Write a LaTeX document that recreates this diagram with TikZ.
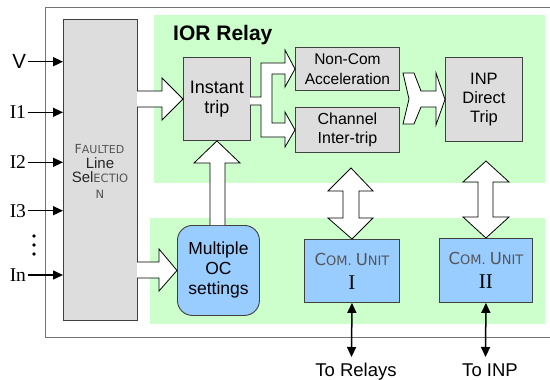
\documentclass[tikz,border=0pt]{standalone}
\usepackage{fontspec}
\setmainfont{Liberation Sans}
\newfontfamily\serifff{Liberation Serif}
\newfontfamily\scff{DejaVu Sans}
\usetikzlibrary{arrows.meta}
\definecolor{grn}{HTML}{CCFFCC}
\definecolor{gboxc}{HTML}{DDDDDD}
\definecolor{bboxc}{HTML}{99CCFF}
\definecolor{edgec}{HTML}{404040}
\definecolor{scc}{HTML}{555555}
\newcommand{\myfs}[2]{\fontsize{#1}{#2}\selectfont}
\pgfdeclarelayer{bg}
\pgfsetlayers{bg,main}
\begin{document}
\begin{tikzpicture}[x=1pt,y=-1pt,
  boxbase/.style={draw=edgec, line width=0.9pt, inner sep=0pt, align=center, anchor=north west},
  gbx/.style={boxbase, fill=gboxc},
  bbx/.style={boxbase, fill=bboxc},
  blk/.style={draw=black, line width=0.8pt, fill=white, line join=miter},
  inlbl/.style={anchor=east, inner sep=0pt, outer sep=1.5pt},
  inarr/.style={line width=1.5pt, -{Triangle[length=10pt,width=9pt]}},
  biarr/.style={line width=1.5pt, {Triangle[length=10pt,width=9pt]}-{Triangle[length=10pt,width=9pt]}},
  sctext/.style={inner sep=0pt, anchor=base, text=scc}
]
\useasboundingbox (0,0) rectangle (550,380);

% regions
\begin{pgfonlayer}{bg}
\draw[line width=0.8pt, draw=black!55] (45,7) rectangle (565,337);
\fill[grn] (154,15) rectangle (545,183);
\fill[grn] (150,218) rectangle (545,324);
\end{pgfonlayer}

% boxes
\node[gbx, minimum width=74pt, minimum height=301pt] (fls) at (63,19) {};
\node[gbx, minimum width=67pt, minimum height=83pt, font=\myfs{18}{20}] (instant) at (183,57) {Instant\\trip};
\node[gbx, minimum width=104pt, minimum height=43pt, font=\myfs{15.5}{20}] (noncom) at (295,47) {Non-Com\\Acceleration};
\node[gbx, minimum width=104pt, minimum height=45pt, font=\myfs{16}{19}] (channel) at (295,107) {Channel\\Inter-trip};
\node[gbx, minimum width=77pt, minimum height=84pt, font=\myfs{16.5}{19}] (inp) at (445,57) {INP\\Direct\\Trip};
\node[bbx, rounded corners=15pt, minimum width=82pt, minimum height=90pt, font=\myfs{17.5}{20}] (oc) at (177,225) {Multiple\\OC\\settings};
\node[bbx, minimum width=95pt, minimum height=63pt, font=\myfs{16}{24}] (com1) at (304,239)
  {{\scff\color{scc}\myfs{16.5}{16}C\myfs{13}{16}OM. \myfs{16.5}{16}U\myfs{13}{16}NIT}\\{\serifff\myfs{21}{24}I}};
\node[bbx, minimum width=93pt, minimum height=64pt, font=\myfs{16}{24}] (com2) at (439,238)
  {{\scff\color{scc}\myfs{16.5}{16}C\myfs{13}{16}OM. \myfs{16.5}{16}U\myfs{13}{16}NIT}\\{\serifff\myfs{21}{24}II}};

% text of the faulted line selection box
\node[sctext, font=\scff] (flsa) at (99.5,153.5) {\myfs{12.5}{13}F\myfs{11}{13}AULTED};
\node[sctext, text=black!85, font=\myfs{15}{15}] (flsb) at (100,168) {Line};
\node[sctext, text=black!85, font=\myfs{15}{15}] (flsc) at (100,182.5) {Sel{\scff\color{scc}\myfs{11.5}{13}ECTIO}};
\node[sctext, font=\scff\myfs{11.5}{13}] (flsd) at (100,198.5) {N};

% title
\node[anchor=base west, inner sep=0pt, font=\bfseries\myfs{21}{21}] (ior) at (173,41) {IOR Relay};

% inputs
\node[inlbl, font=\myfs{20.5}{20}] (lV) at (27.5,61.7) {V};
\node[inlbl, font=\serifff\myfs{19.5}{19}] (lI1) at (27.5,112.3) {I1};
\node[inlbl, font=\serifff\myfs{19.5}{19}] (lI2) at (27.5,162.3) {I2};
\node[inlbl, font=\serifff\myfs{19.5}{19}] (lI3) at (27.5,210.7) {I3};
\node[inlbl, font=\serifff\myfs{19.5}{19}] (lIn) at (27.5,275) {In};
\foreach \n in {lV,lI1,lI2,lI3,lIn}
  \draw[inarr] (\n.east) -- (\n.east -| fls.west);
\foreach \yy in {236,245,254}
  \fill (34,\yy) circle[radius=1.8pt];

% block arrows
\draw[blk] (137,91) -- (162,91) -- (162,78) -- (instant.west) -- (162,120) -- (162,107) -- (137,107);
\draw[blk] (137,262) -- (159,262) -- (159,249) -- (oc.west) -- (159,291) -- (159,278) -- (137,278);
\draw[blk] (210,225) -- (210,163) -- (194,163) -- (instant.south) -- (240,163) -- (225,163) -- (225,225);
\draw[blk] (250,97) -- (261,97) -- (261,63) -- (285,63) -- (285,50) -- (noncom.west) -- (285,87) -- (285,74)
  -- (272,74) -- (272,123) -- (285,123) -- (285,112) -- (channel.west) -- (285,147) -- (285,137)
  -- (261,137) -- (261,105) -- (250,105);
\draw[blk] (403,73) -- (414,73) -- (421,91) -- (436,91) -- (436,73) -- (inp.west) -- (436,125) -- (436,107)
  -- (421,107) -- (414,124) -- (403,124) -- (409,99) -- cycle;
\draw[blk] (com1.north) -- (328,218) -- (343,218) -- (343,191) -- (328,191) -- (351,168) -- (373,191)
  -- (359,191) -- (359,218) -- (373,218) -- cycle;
\draw[blk] (com2.north) -- (463,217) -- (478,217) -- (478,182) -- (463,182) -- (486,161) -- (509,182)
  -- (493,182) -- (493,217) -- (509,217) -- cycle;

% outputs
\coordinate (o1) at (351.5,357);
\coordinate (o2) at (485.5,357);
\draw[biarr] (com1.south) -- (o1);
\draw[biarr] (com2.south) -- (o2);
\node[anchor=base, inner sep=0pt, font=\myfs{18.5}{18.5}] (tr) at (356,376) {To Relays};
\node[anchor=base, inner sep=0pt, font=\myfs{18.5}{18.5}] (ti) at (490,376) {To INP};
\end{tikzpicture}
\end{document}
